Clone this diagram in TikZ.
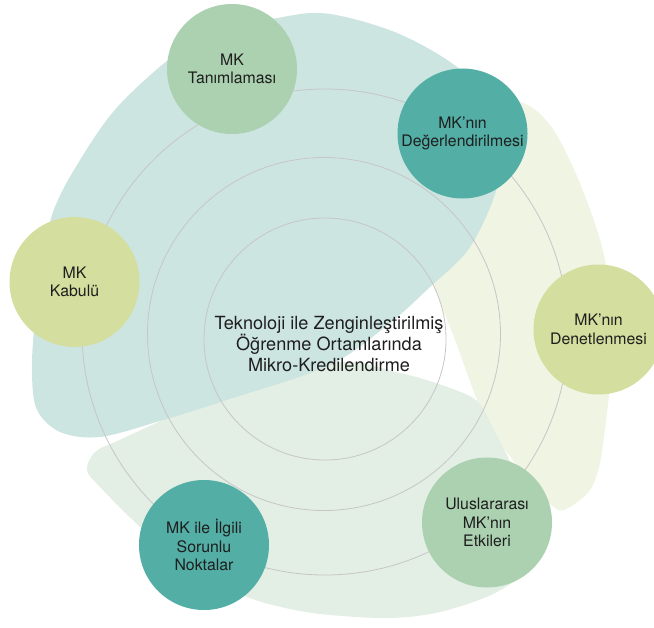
\documentclass[tikz,border=0pt]{standalone}
\usepackage{fontspec}
\setmainfont{TeX Gyre Heros}
\definecolor{tealdark}{HTML}{53AEA5}
\definecolor{greenmid}{HTML}{ABD1B1}
\definecolor{olivelight}{HTML}{D4DE9F}
\definecolor{blobteal}{HTML}{CDE5E1}
\definecolor{blobyellow}{HTML}{F0F4E3}
\definecolor{blobgreen}{HTML}{E3EFE4}
\definecolor{ringgray}{HTML}{C6C6C6}
\definecolor{textdark}{HTML}{1E1E1E}
\tikzset{
  topic/.style={circle, minimum size=130bp, inner sep=0pt, draw=none,
    align=center, text=textdark, font=\fontsize{15.9}{18.4}\selectfont},
  ring/.style={draw=ringgray, line width=0.8bp},
}
\begin{document}
\begin{tikzpicture}[x=1bp, y=-1bp]
\useasboundingbox (0,0) rectangle (654,628);

% soft background shapes
\fill[blobyellow] plot[smooth cycle, tension=0.55] coordinates {
  (470,95) (523,103) (550,125) (572,165) (592,215) (606,265) (611,330)
  (610,380) (607,413) (600,463) (590,490) (570,507) (555,508) (525,475)
  (492,432) (477,400) (455,340) (433,283) (418,230) (425,160) (445,115)};
\fill[blobgreen] plot[smooth cycle, tension=0.55] coordinates {
  (87,470) (95,452) (115,442) (200,405) (330,363) (400,373) (450,388)
  (478,402) (495,432) (512,465) (537,515) (530,565) (495,593) (440,612)
  (390,618) (330,615) (290,609) (247,597) (190,570) (140,527) (100,487)};
\fill[blobteal] plot[smooth cycle, tension=0.55] coordinates {
  (37,410) (32,375) (34,330) (42,270) (52,215) (77,165) (122,102)
  (200,38) (283,17) (330,14) (397,33) (457,67) (495,110) (503,155)
  (493,200) (468,250) (430,287) (390,323) (330,365) (233,398) (160,421)
  (100,437) (60,432)};

% concentric rings
\draw[ring] (325,339) circle[radius=121];
\draw[ring] (324,334) circle[radius=176.5];
\draw[ring] (325,332) circle[radius=243];

% central title
\node[align=center, text=textdark, font=\fontsize{18.2}{20.7}\selectfont]
  (core) at (329,344) {Teknoloji ile Zenginleştirilmiş\\Öğrenme Ortamlarında\\Mikro-Kredilendirme};

% topic circles
\node[topic, fill=greenmid]   (tanim)   at (232,69)    {MK\\Tanımlaması};
\node[topic, fill=tealdark]   (deger)   at (462.5,133.5) {MK’nın\\Değerlendirilmesi};
\node[topic, fill=olivelight] (denet)   at (598.5,329.5) {MK’nın\\Denetlenmesi};
\node[topic, fill=greenmid]   (ulus)    at (487,522.5) {Uluslararası\\MK’nın\\Etkileri};
\node[topic, fill=tealdark]   (sorun)   at (204,545)   {MK ile İlgili\\Sorunlu\\Noktalar};
\node[topic, fill=olivelight] (kabul)   at (74.5,282)  {MK\\Kabulü};
\end{tikzpicture}
\end{document}
